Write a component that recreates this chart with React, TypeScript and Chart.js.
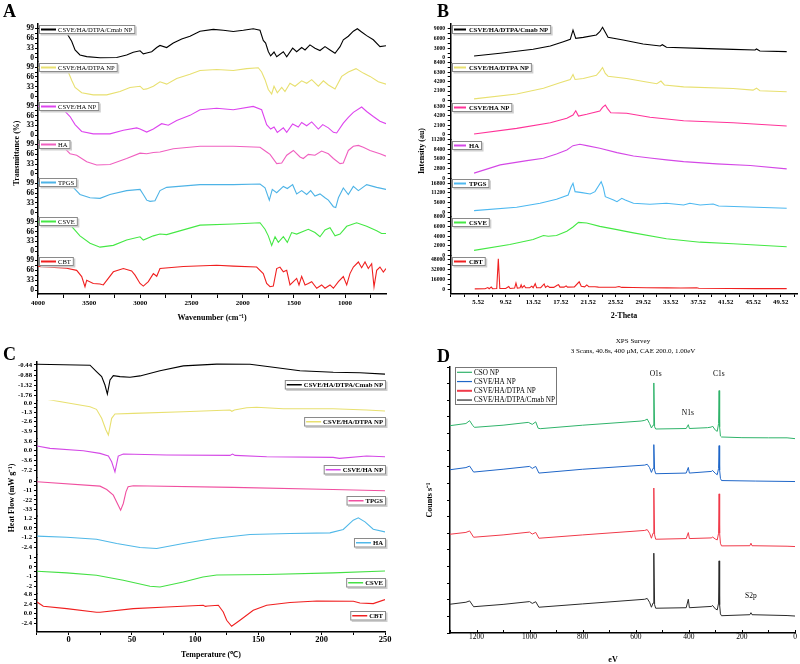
import React, { useEffect, useRef } from "react";
import { Chart, registerables } from "chart.js";

Chart.register(...registerables);

type Pt = [number, number];

// ---------------- Panel A : FTIR ----------------
const ftirNames = ["CSVE/HA/DTPA/Cmab NP", "CSVE/HA/DTPA NP", "CSVE/HA NP", "HA", "TPGS", "CSVE", "CBT"];
const ftirXTicks = ["4000", "3500", "3000", "2500", "2000", "1500", "1000"];
const ftirXMinor = [3750, 3250, 2750, 2250, 1750, 1250, 750];
const ftirYTicks = ["0", "33", "66", "99"];
const ftirYMinor = [16.5, 49.5, 82.5];

const ftirCmab: Pt[] = [[4000,99],[3800,98],[3736,92],[3720,84],[3671,56],[3638,27],[3590,10],[3524,4.5],[3394,1],[3231,1.5],[3134,10],[3069,19],[3003,24],[2971,14],[2938,17],[2889,21],[2840,35],[2808,42],[2743,35],[2678,50],[2596,64],[2515,73],[2417,90],[2287,96],[2190,93],[2092,89],[1994,93],[1897,98],[1831,93],[1799,59],[1776,50],[1750,22],[1727,7],[1694,20],[1668,4],[1603,21],[1570,4],[1512,33],[1473,21],[1424,35],[1391,27],[1343,44],[1294,33],[1245,25],[1196,38],[1147,27],[1098,16],[1049,38],[1017,61],[968,73],[919,90],[880,98],[838,87],[789,75],[724,61],[659,38],[600,41]];
const ftirDtpa: Pt[] = [[4000,97],[3800,96],[3704,83],[3671,55],[3638,31],[3573,13],[3460,6],[3329,6],[3199,17],[3101,31],[3003,35],[2971,24],[2938,26],[2873,35],[2808,50],[2743,42],[2645,61],[2515,75],[2417,88],[2254,91],[2092,88],[1961,94],[1848,97],[1815,83],[1782,57],[1750,24],[1717,9],[1694,35],[1662,13],[1619,31],[1587,17],[1538,45],[1489,35],[1424,53],[1375,45],[1326,57],[1261,35],[1212,53],[1163,39],[1098,26],[1033,68],[968,83],[893,94],[822,79],[756,68],[675,50],[600,42]];
const ftirHaNp: Pt[] = [[4000,97],[3800,95],[3736,80],[3687,63],[3638,36],[3573,13],[3460,5],[3297,5],[3166,17],[3036,25],[3003,21],[2938,11],[2873,21],[2792,39],[2727,34],[2645,50],[2515,67],[2417,86],[2254,91],[2092,86],[1897,97],[1815,86],[1766,36],[1727,21],[1694,28],[1662,10],[1603,25],[1570,10],[1512,38],[1457,28],[1424,43],[1375,32],[1326,45],[1261,21],[1218,36],[1163,25],[1114,10],[1082,8],[1017,41],[968,60],[919,77],[838,95],[789,80],[724,63],[659,47],[600,39]];
const ftirHa: Pt[] = [[4000,99],[3800,96],[3736,85],[3687,68],[3622,63],[3524,41],[3427,30],[3297,32],[3134,52],[3003,70],[2938,68],[2873,72],[2808,74],[2678,85],[2417,93],[2092,93],[1831,90],[1766,74],[1733,66],[1668,35],[1619,37],[1570,63],[1505,79],[1440,57],[1408,52],[1359,66],[1294,63],[1229,77],[1163,68],[1114,52],[1049,35],[1017,37],[968,79],[919,93],[870,96],[822,90],[756,79],[659,68],[600,60]];
const ftirTpgs: Pt[] = [[4000,99],[3720,99],[3655,85],[3590,61],[3492,50],[3394,48],[3297,61],[3134,74],[3003,78],[2971,61],[2938,42],[2905,38],[2857,40],[2808,74],[2743,85],[2417,94],[2092,94],[1831,96],[1782,83],[1740,42],[1711,78],[1668,67],[1603,88],[1564,81],[1512,94],[1473,63],[1424,74],[1375,61],[1336,74],[1294,56],[1245,63],[1196,50],[1163,42],[1114,20],[1091,17],[1065,50],[1017,83],[968,61],[919,88],[870,74],[789,94],[691,85],[600,78]];
const ftirCsve: Pt[] = [[4000,99],[3750,97],[3687,90],[3590,52],[3492,27],[3394,14],[3264,20],[3134,38],[3003,49],[2971,38],[2873,52],[2808,58],[2743,56],[2580,72],[2417,88],[2092,92],[1831,96],[1782,74],[1750,52],[1717,20],[1684,49],[1652,30],[1603,49],[1564,30],[1522,63],[1473,58],[1359,74],[1294,63],[1245,49],[1196,72],[1147,79],[1098,52],[1049,58],[984,84],[887,96],[789,84],[691,69],[643,60],[600,60]];
const ftirCbt: Pt[] = [[4000,79],[3720,73],[3622,66],[3573,45],[3541,11],[3524,33],[3460,22],[3394,20],[3362,17],[3264,61],[3166,72],[3085,64],[3052,50],[3003,22],[2971,13],[2922,28],[2873,55],[2840,46],[2808,72],[2580,79],[2254,83],[2092,80],[1864,77],[1799,55],[1766,22],[1733,11],[1701,13],[1668,72],[1636,77],[1603,61],[1570,66],[1538,17],[1505,28],[1473,39],[1450,17],[1424,46],[1391,17],[1359,22],[1326,28],[1277,6],[1229,17],[1196,6],[1147,17],[1114,6],[1065,28],[1017,45],[984,17],[952,55],[919,77],[870,94],[838,75],[805,94],[773,72],[740,88],[717,11],[691,66],[659,77],[626,60],[600,72]];

// ---------------- Panel B : XRD ----------------
const xrdNames = ["CSVE/HA/DTPA/Cmab NP", "CSVE/HA/DTPA NP", "CSVE/HA NP", "HA", "TPGS", "CSVE", "CBT"];
const xrdXTicks = ["5.52", "9.52", "13.52", "17.52", "21.52", "25.52", "29.52", "33.52", "37.52", "41.52", "45.52", "49.52"];
const xrdXMinor = [1.52, 3.52, 7.52, 11.52, 15.52, 19.52, 23.52, 27.52, 31.52, 35.52, 39.52, 43.52, 47.52, 51.52];
const xrdCmabTicks = ["0", "3000", "6000", "9000"];
const xrdDtpaTicks = ["0", "2100", "4200", "6300", "8400"];
const xrdHaNpTicks = ["0", "2100", "4200", "6300"];
const xrdHaTicks = ["0", "2800", "5600", "8400", "11200"];
const xrdTpgsTicks = ["0", "5600", "11200", "16800"];
const xrdCsveTicks = ["0", "2000", "4000", "6000", "8000"];
const xrdCbtTicks = ["0", "16000", "32000", "48000"];

const xrdCmab: Pt[] = [[4.9,620],[8.7,1450],[13.5,2690],[16,3720],[17.9,5060],[18.9,5790],[19.3,8690],[19.7,6100],[20.8,6410],[22.7,7140],[23.2,8170],[23.6,9520],[24,7960],[24.4,6410],[26.6,5580],[29.5,4340],[32,3720],[32.3,4130],[32.9,3310],[37.8,3000],[42.6,2690],[45.8,2500],[46.0,2800],[46.5,2170],[50.4,1970]];
const xrdDtpa: Pt[] = [[4.9,360],[11.1,1440],[15,2730],[17.4,3950],[18.9,4670],[19.3,5750],[19.6,4670],[20.8,4880],[22.7,5600],[23.2,6460],[23.6,7320],[24,6000],[24.4,5380],[27.1,4880],[30,4090],[31.5,3730],[32.1,4310],[32.6,3450],[35.4,3020],[42.6,2650],[45.5,2300],[46,2730],[46.5,2150],[50.4,1940]];
const xrdHaNp: Pt[] = [[4.9,150],[11.1,1400],[16,2640],[18.4,3600],[19.3,4330],[19.7,5270],[20.1,4110],[21.3,4480],[23.2,5210],[23.6,6020],[24,6520],[24.3,5800],[24.8,4830],[27.1,4700],[30.5,3820],[35.4,3080],[42.6,2640],[50.4,1910]];
const xrdHa: Pt[] = [[4.9,1460],[8.7,3880],[12.6,5130],[15,5830],[16.9,7090],[18.4,8250],[19.3,9510],[20.3,9920],[21.3,9510],[23.2,8750],[25.7,7470],[28.1,6500],[30.5,5900],[32.9,5340],[35.4,4840],[40.2,4170],[45.1,3680],[50.4,2710]];
const xrdTpgs: Pt[] = [[4.9,930],[11.1,2900],[14.5,5210],[16.9,7530],[18.6,10020],[19.0,14480],[19.3,16790],[19.6,11930],[20.6,11350],[21.8,10600],[22.5,11930],[23.1,15810],[23.4,17720],[23.7,14500],[24,9030],[25.2,7120],[25.7,6140],[26.4,8100],[26.9,7120],[28.1,5210],[30.5,4630],[32.9,5210],[35.4,4230],[36.3,5210],[37.8,4230],[39.7,4810],[40.5,3650],[50.4,2320]];
const xrdCsve: Pt[] = [[4.9,1030],[10.1,2270],[13.5,3300],[15,4120],[15.7,3980],[16.9,4120],[18.4,5010],[19.3,5920],[20.1,6870],[21.3,6740],[23.2,6040],[25.7,5360],[26.6,5100],[28.1,4680],[32.9,3440],[37.8,2740],[42.6,2410],[50.4,1790]];
const xrdCbt: Pt[] = [[5.0,700],[6.5,900],[6.9,2800],[7.1,900],[7.4,3500],[7.6,1000],[8.2,1200],[8.43,49000],[8.65,1200],[9.5,1300],[9.95,4500],[10.15,1300],[10.8,2000],[11.0,10000],[11.2,2000],[11.6,2500],[11.75,7000],[11.9,2500],[12.2,6000],[12.4,2500],[13.0,2500],[13.3,5000],[13.5,2500],[13.8,9000],[14.0,2600],[14.6,2500],[15.1,8500],[15.3,3000],[15.6,5500],[15.9,3000],[16.5,3000],[17.0,6500],[17.2,7500],[17.4,3500],[18.0,3500],[18.3,5500],[18.5,3500],[19.5,3800],[20.2,12000],[20.5,5000],[21.0,4000],[21.3,7000],[21.6,4200],[22.5,4000],[23.0,3500],[24.0,3300],[25.5,3200],[26.0,4500],[26.4,3000],[28,2800],[30,2500],[33,2200],[35,2000],[37.3,2500],[37.6,1600],[42,1300],[46,1100],[50.4,1000]];

// ---------------- Panel C : DSC ----------------
const dscNames = ["CSVE/HA/DTPA/Cmab NP", "CSVE/HA/DTPA NP", "CSVE/HA NP", "TPGS", "HA", "CSVE", "CBT"];
const dscXTicks = ["0", "50", "100", "150", "200", "250"];
const dscXMinor = [-25, 25, 75, 125, 175, 225];
const dscCmabTicks = ["-0.44", "-0.88", "-1.32", "-1.76"];
const dscDtpaTicks = ["0.0", "-1.3", "-2.6", "-3.9"];
const dscHaNpTicks = ["3.6", "0.0", "-3.6", "-7.2"];
const dscTpgsTicks = ["0", "-11", "-22", "-33"];
const dscHaTicks = ["1.2", "0.0", "-1.2", "-2.4"];
const dscCsveTicks = ["1", "0", "-1", "-2"];
const dscCbtTicks = ["4.8", "2.4", "0.0", "-2.4"];

const dscCmab: Pt[] = [[-25,-0.41],[16.9,-0.45],[22,-0.73],[26.1,-0.95],[28.7,-1.32],[30.6,-1.72],[32.7,-1.10],[35.3,-0.91],[40.6,-0.95],[48.5,-0.98],[56.4,-0.92],[72.2,-0.69],[90.6,-0.48],[117,-0.40],[143.3,-0.41],[161.7,-0.54],[182.8,-0.69],[209.1,-0.76],[230.2,-0.78],[250,-0.84]];
const dscDtpa: Pt[] = [[-18.7,0.56],[-1.5,0.04],[16.9,-0.52],[22,-0.88],[26.1,-2.13],[29.5,-3.76],[31.4,-4.46],[34,-2.13],[36.6,-1.53],[51.1,-1.44],[90.6,-1.21],[127.5,-0.98],[129,-1.15],[131,-0.98],[140.7,-0.65],[148.6,-0.6],[169.6,-0.79],[209,-0.79],[235.5,-0.98],[250,-1.11]];
const dscHaNp: Pt[] = [[-25,1.74],[-14.7,0.88],[11.6,-0.01],[24.8,-0.98],[31.4,-1.98],[34,-4.11],[36.6,-7.83],[39.2,-1.98],[43.2,-1.24],[77.5,-1.61],[127.5,-1.72],[129.5,-1.24],[131.5,-1.72],[156.5,-2.24],[209,-2.47],[214,-2.84],[235.5,-1.98],[250,-2.24]];
const dscTpgs: Pt[] = [[-25,-0.8],[24.8,-5.9],[30.1,-9.8],[35.3,-16.5],[39.2,-28.3],[41.1,-34.2],[43.2,-26.3],[45.3,-12.6],[47,-6.7],[51.1,-5.5],[130.1,-7.4],[209,-9.8],[250,-11.4]];
const dscHa: Pt[] = [[-25,-1.03],[-1.5,-1.16],[22,-1.41],[38,-1.94],[56.4,-2.44],[69.6,-2.56],[90.6,-1.94],[114.3,-1.32],[143.3,-0.82],[174.9,-0.70],[206.5,-0.62],[217,-0.20],[224.9,0.95],[228.9,1.24],[234.2,0.74],[240.7,-0.17],[250,-0.50]];
const dscCsve: Pt[] = [[-25,-0.45],[-1.5,-0.62],[22,-0.86],[43.2,-1.38],[64.3,-2.0],[72.2,-2.07],[90.6,-1.55],[106.1,-1.04],[117,-0.83],[156.5,-0.79],[209,-0.62],[250,-0.42]];
const dscCbt: Pt[] = [[-25,2.89],[-20,1.82],[-1.5,1.25],[22,0.33],[24.8,0.33],[51.1,1.25],[77.5,1.65],[106.4,2.07],[108,1.8],[110,1.9],[118.3,2.07],[122.2,0.41],[124.9,-1.65],[128.8,-3.14],[135.4,-1.65],[145.9,0.83],[156.5,2.07],[174.9,2.74],[196.1,3.14],[225,3.06],[230.2,2.64],[240.7,2.49],[250,3.48]];

// ---------------- Panel D : XPS ----------------
const xpsNames = ["CSO NP", "CSVE/HA NP", "CSVE/HA/DTPA NP", "CSVE/HA/DTPA/Cmab NP"];
const xpsXTicks = ["1200", "1000", "800", "600", "400", "200", "0"];
const xpsXMinor = [1300, 1100, 900, 700, 500, 300, 100];
const xpsYTicks = [0, 1, 2, 3, 4, 5, 6, 7, 8, 9, 10, 11, 12, 13, 14, 15, 16];
const xpsPeakLabels = ["O1s", "N1s", "C1s", "S2p"];
const xpsPeakEv = [525, 404, 287, 166];
const xpsPeakY = [15.6, 13.25, 15.6, 2.2];

const xpsCso: Pt[] = [[1300,12.47],[1240,12.6],[1226,12.77],[1215,12.5],[1208,12.37],[1100,12.5],[1005,12.67],[990,12.55],[977,12.7],[968,12.32],[960,12.29],[800,12.5],[580,12.75],[566,12.79],[557,12.87],[548,12.6],[541,12.33],[535,12.5],[532,15.04],[529,12.4],[525,12.27],[410,12.3],[402,12.53],[398,12.3],[330,12.35],[314,12.39],[311,12.45],[300,12.2],[293,12.13],[288,12.6],[286,14.58],[284,12.4],[281,11.85],[277,11.79],[200,11.75],[100,11.74],[30,11.74],[0,11.69]];
const xpsHa: Pt[] = [[1300,9.82],[1240,9.95],[1226,10.04],[1211,9.68],[1100,9.85],[1000,10.02],[990,9.9],[977,10.02],[965,9.62],[800,9.85],[566,10.1],[557,10.15],[548,9.95],[541,9.66],[535,9.9],[532,11.33],[529,9.8],[525,9.58],[410,9.62],[402,9.96],[398,9.62],[314,9.72],[311,9.78],[300,9.6],[293,9.52],[288,9.9],[286,11.27],[284,9.8],[281,9.3],[277,9.17],[150,9.14],[0,9.11]];
const xpsDtpa: Pt[] = [[1300,5.94],[1240,6.05],[1226,6.14],[1211,5.76],[1100,5.9],[1000,6.07],[990,5.95],[977,6.05],[965,5.7],[800,5.9],[566,6.17],[557,6.22],[548,6.0],[541,5.7],[535,6.0],[532,8.72],[529,5.9],[525,5.64],[410,5.68],[402,6.04],[398,5.68],[314,5.72],[311,5.78],[300,5.65],[293,5.6],[288,6.0],[286,8.37],[284,6.0],[281,5.4],[277,5.24],[170,5.25],[166,5.4],[162,5.25],[30,5.22],[0,5.2]];
const xpsCmab: Pt[] = [[1300,1.73],[1240,1.85],[1226,1.93],[1211,1.58],[1100,1.72],[1000,1.89],[990,1.78],[977,1.88],[965,1.55],[800,1.75],[566,2.03],[557,2.08],[548,1.85],[541,1.55],[535,1.8],[532,4.8],[529,1.7],[525,1.49],[410,1.52],[402,2.03],[398,1.52],[314,1.6],[311,1.66],[300,1.45],[293,1.39],[288,1.8],[286,4.34],[284,1.7],[281,1.15],[277,1.04],[170,1.1],[166,1.22],[162,1.1],[30,1.05],[0,1.02]];

// ---------------- styling helpers ----------------
const SERIF = '"Liberation Serif", "Times New Roman", serif';
const cssFont = (size: number, bold: boolean) => `${bold ? "bold " : ""}${size}px ${SERIF}`;
const jsFont = (size: number, bold: boolean) => ({ family: SERIF, size, weight: bold ? "bold" : "normal", lineHeight: 1.2 });

interface TextItem { text: string; x: number; y: number; font: string; align?: CanvasTextAlign; baseline?: CanvasTextBaseline; rotate?: boolean; dataX?: number; dataY?: number; }
interface LegendStyle { h: number; font: string; lineLen: number; pad: number; gap: number; lineWidth: number; align: "left" | "right"; x: number; }
interface Band { name: string; color: string; data: Pt[]; range: [number, number]; ticks: string[]; minor: number[]; legendY: number; }

function tickList(labels: string[], minor: number[]) {
  const map = new Map<number, string>();
  labels.forEach((l) => map.set(parseFloat(l), l));
  const vals = [...Array.from(map.keys()), ...minor].sort((a, b) => a - b);
  return { map, vals };
}

function makeDecor(texts: TextItem[], legends: { text: string; color: string; y: number }[], ls: LegendStyle | null, extra?: (chart: any, ctx: CanvasRenderingContext2D) => void) {
  return {
    id: "decor",
    afterDraw(chart: any) {
      const ctx: CanvasRenderingContext2D = chart.ctx;
      ctx.save();
      if (extra) extra(chart, ctx);
      if (ls) {
        for (const L of legends) {
          ctx.font = ls.font;
          const tw = ctx.measureText(L.text).width;
          const w = ls.pad + ls.lineLen + ls.gap + tw + ls.pad + 1;
          const x0 = ls.align === "right" ? ls.x - w : ls.x;
          ctx.fillStyle = "#cfcfcf";
          ctx.fillRect(x0 + 1.5, L.y + 1.5, w, ls.h);
          ctx.fillStyle = "#fff";
          ctx.fillRect(x0, L.y, w, ls.h);
          ctx.strokeStyle = "#8a8a8a";
          ctx.lineWidth = 1;
          ctx.strokeRect(x0 + 0.5, L.y + 0.5, w - 1, ls.h - 1);
          const cy = L.y + ls.h / 2;
          ctx.strokeStyle = L.color;
          ctx.lineWidth = ls.lineWidth;
          ctx.beginPath();
          ctx.moveTo(x0 + ls.pad, cy);
          ctx.lineTo(x0 + ls.pad + ls.lineLen, cy);
          ctx.stroke();
          ctx.fillStyle = "#000";
          ctx.textAlign = "left";
          ctx.textBaseline = "middle";
          ctx.fillText(L.text, x0 + ls.pad + ls.lineLen + ls.gap, cy + 0.5);
        }
      }
      for (const t of texts) {
        ctx.font = t.font;
        ctx.fillStyle = "#000";
        ctx.textAlign = t.align || "left";
        ctx.textBaseline = t.baseline || "alphabetic";
        let x = t.x;
        let y = t.y;
        if (t.dataX !== undefined) x = chart.scales.x.getPixelForValue(t.dataX);
        if (t.dataY !== undefined) y = chart.scales.y.getPixelForValue(t.dataY);
        if (t.rotate) {
          ctx.save();
          ctx.translate(x, y);
          ctx.rotate(-Math.PI / 2);
          ctx.fillText(t.text, 0, 0);
          ctx.restore();
        } else {
          ctx.fillText(t.text, x, y);
        }
      }
      ctx.restore();
    },
  };
}

interface StackSpec {
  bands: Band[];
  xMin: number; xMax: number; xReverse: boolean; xTicks: string[]; xMinor: number[];
  xFont: any; xTickLen: number; xPad: number; xHeight: number;
  yFont: any; yTickLen: number; yPad: number; yWidth: number;
  padding: { left: number; right: number; top: number; bottom: number };
  legend: LegendStyle;
  texts: TextItem[];
}

function stackedConfig(spec: StackSpec): any {
  const n = spec.bands.length;
  const datasets = spec.bands.map((b, i) => ({
    label: b.name,
    data: b.data.map(([x, y]) => ({ x, y })),
    xAxisID: "x",
    yAxisID: "y" + i,
    borderColor: b.color,
    borderWidth: 1.1,
    pointRadius: 0,
    fill: false,
    tension: 0,
  }));
  const xt = tickList(spec.xTicks, spec.xMinor);
  const scales: any = {
    x: {
      type: "linear", position: "bottom", min: spec.xMin, max: spec.xMax, reverse: spec.xReverse, bounds: "data",
      afterBuildTicks: (s: any) => { s.ticks = xt.vals.map((v) => ({ value: v })); },
      afterFit: (s: any) => { s.height = spec.xHeight; },
      ticks: { autoSkip: false, maxRotation: 0, minRotation: 0, color: "#000", font: spec.xFont, padding: spec.xPad, callback: (v: number) => xt.map.get(v) ?? "" },
      grid: { display: true, drawOnChartArea: false, drawTicks: true, tickLength: spec.xTickLen, tickColor: "#000", tickWidth: 1 },
      border: { display: true, color: "#000", width: 1.5 },
      title: { display: false },
    },
  };
  spec.bands.forEach((b, i) => {
    const yt = tickList(b.ticks, b.minor);
    scales["y" + i] = {
      type: "linear", position: "left", stack: "bands", stackWeight: 1, weight: n - i,
      min: b.range[0], max: b.range[1], bounds: "data",
      afterBuildTicks: (s: any) => { s.ticks = yt.vals.map((v) => ({ value: v })); },
      afterFit: (s: any) => { s.width = spec.yWidth; },
      ticks: { autoSkip: false, color: "#000", font: spec.yFont, padding: spec.yPad, callback: (v: number) => yt.map.get(v) ?? "" },
      grid: { display: true, drawOnChartArea: false, drawTicks: true, tickLength: spec.yTickLen, tickColor: "#000", tickWidth: 1 },
      border: { display: true, color: "#000", width: 1.5 },
      title: { display: false },
    };
  });
  const legends = spec.bands.map((b) => ({ text: b.name, color: b.color, y: b.legendY }));
  return {
    type: "line",
    data: { datasets },
    options: {
      animation: false, responsive: false, events: [],
      layout: { padding: spec.padding, autoPadding: false },
      plugins: { legend: { display: false }, tooltip: { enabled: false }, title: { display: false } },
      scales,
    },
    plugins: [makeDecor(spec.texts, legends, spec.legend)],
  };
}

// ---------------- Panel configs ----------------
const ftirColors = ["#000000", "#e8e070", "#dd44ee", "#f060c0", "#4db3e6", "#44e844", "#f02020"];
const ftirData = [ftirCmab, ftirDtpa, ftirHaNp, ftirHa, ftirTpgs, ftirCsve, ftirCbt];
const ftirLegendY = [25, 63, 102, 140, 178, 217, 257];

const configA = stackedConfig({
  bands: ftirNames.map((name, i) => ({ name, color: ftirColors[i], data: ftirData[i], range: [-13.4, 116.4] as [number, number], ticks: ftirYTicks, minor: ftirYMinor, legendY: ftirLegendY[i] })),
  xMin: 600, xMax: 4000, xReverse: true, xTicks: ftirXTicks, xMinor: ftirXMinor,
  xFont: jsFont(7, true), xTickLen: 4, xPad: 0.8, xHeight: 30,
  yFont: jsFont(7.5, true), yTickLen: 3, yPad: 1, yWidth: 30,
  padding: { left: 8, right: 14, top: 23.3, bottom: 8 },
  legend: { h: 9, font: cssFont(6.6, false), lineLen: 15, pad: 2, gap: 2, lineWidth: 2, align: "left", x: 39 },
  texts: [
    { text: "A", x: 3, y: 17, font: cssFont(18, true) },
    { text: "Wavenumber (cm\u207B\u00B9)", x: 212, y: 318, font: cssFont(8, true), align: "center", baseline: "middle" },
    { text: "Transmittance (%)", x: 16.5, y: 153, font: cssFont(8, true), align: "center", baseline: "middle", rotate: true },
  ],
});

const xrdColors = ["#000000", "#e8e070", "#ff3399", "#d448e6", "#4db8f0", "#44e844", "#f02020"];
const xrdData = [xrdCmab, xrdDtpa, xrdHaNp, xrdHa, xrdTpgs, xrdCsve, xrdCbt];
const xrdTicks = [xrdCmabTicks, xrdDtpaTicks, xrdHaNpTicks, xrdHaTicks, xrdTpgsTicks, xrdCsveTicks, xrdCbtTicks];
const xrdRanges: [number, number][] = [[-1420, 10550], [-150, 8420], [-1098, 7375], [-50, 11250], [-2664, 19672], [-30, 8030], [-7520, 54192]];
const xrdLegendY = [25, 63, 103, 141, 179, 218, 257];
const halfSteps = (labels: string[]) => {
  const v = labels.map(parseFloat);
  const out: number[] = [];
  for (let i = 0; i < v.length - 1; i++) out.push((v[i] + v[i + 1]) / 2);
  return out;
};

const configB = stackedConfig({
  bands: xrdNames.map((name, i) => ({ name, color: xrdColors[i], data: xrdData[i], range: xrdRanges[i], ticks: xrdTicks[i], minor: halfSteps(xrdTicks[i]), legendY: xrdLegendY[i] })),
  xMin: 1.5, xMax: 51.9, xReverse: false, xTicks: xrdXTicks, xMinor: xrdXMinor,
  xFont: jsFont(6.8, true), xTickLen: 3, xPad: 1, xHeight: 30,
  yFont: jsFont(5.7, true), yTickLen: 3, yPad: 2.5, yWidth: 40,
  padding: { left: 10.7, right: 3, top: 24, bottom: 8 },
  legend: { h: 9, font: cssFont(6.7, true), lineLen: 12, pad: 2, gap: 3, lineWidth: 2, align: "left", x: 52 },
  texts: [
    { text: "B", x: 37, y: 17, font: cssFont(18, true) },
    { text: "2-Theta", x: 224, y: 316, font: cssFont(8, true), align: "center", baseline: "middle" },
    { text: "Intensity (au)", x: 21.5, y: 151, font: cssFont(8, true), align: "center", baseline: "middle", rotate: true },
  ],
});

const dscColors = ["#000000", "#e8e070", "#d448e6", "#f050a0", "#50b8e8", "#44e044", "#f02020"];
const dscData = [dscCmab, dscDtpa, dscHaNp, dscTpgs, dscHa, dscCsve, dscCbt];
const dscTicks = [dscCmabTicks, dscDtpaTicks, dscHaNpTicks, dscTpgsTicks, dscHaTicks, dscCsveTicks, dscCbtTicks];
const dscRanges: [number, number][] = [[-1.993, -0.295], [-5.0, 0.376], [-9.95, 4.38], [-41.25, 4.24], [-3.34, 1.45], [-2.73, 1.25], [-4.56, 5.02]];
const dscLegendY = [48, 85, 133, 164, 206, 246, 279];

const configC = stackedConfig({
  bands: dscNames.map((name, i) => ({ name, color: dscColors[i], data: dscData[i], range: dscRanges[i], ticks: dscTicks[i], minor: halfSteps(dscTicks[i]), legendY: dscLegendY[i] })),
  xMin: -25, xMax: 250, xReverse: false, xTicks: dscXTicks, xMinor: dscXMinor,
  xFont: jsFont(8.5, true), xTickLen: 3, xPad: 0, xHeight: 30,
  yFont: jsFont(6.7, true), yTickLen: 3, yPad: 2, yWidth: 30,
  padding: { left: 7, right: 15, top: 29.7, bottom: 2 },
  legend: { h: 9.5, font: cssFont(6.7, true), lineLen: 15, pad: 2, gap: 2, lineWidth: 1.5, align: "right", x: 386 },
  texts: [
    { text: "C", x: 3, y: 28, font: cssFont(18, true) },
    { text: "Temperature (\u2103)", x: 211, y: 323, font: cssFont(8, true), align: "center", baseline: "middle" },
    { text: "Heat Flow (mW g\u207B\u00B9)", x: 11.7, y: 166, font: cssFont(8, true), align: "center", baseline: "middle", rotate: true },
  ],
});

const xpsColors = ["#2fb36a", "#1f66c8", "#f03a4a", "#2a2a2a"];
const xpsData = [xpsCso, xpsHa, xpsDtpa, xpsCmab];

function xpsConfig(): any {
  const xt = tickList(xpsXTicks, xpsXMinor);
  const texts: TextItem[] = [
    { text: "D", x: 37, y: 30, font: cssFont(18, true) },
    { text: "XPS Survey", x: 233, y: 9, font: cssFont(7, false), align: "center", baseline: "middle" },
    { text: "3 Scans, 40.8s, 400 \u03BCM, CAE 200.0, 1.00eV", x: 233, y: 19, font: cssFont(7, false), align: "center", baseline: "middle" },
    { text: "eV", x: 213, y: 328, font: cssFont(8, true), align: "center", baseline: "middle" },
    { text: "Counts s\u207B\u00B9", x: 30, y: 168, font: cssFont(8, true), align: "center", baseline: "middle", rotate: true },
    ...xpsPeakLabels.map((t, i) => ({ text: t, x: 0, y: 0, dataX: xpsPeakEv[i], dataY: xpsPeakY[i], font: cssFont(7.5, false), align: "center" as CanvasTextAlign, baseline: "middle" as CanvasTextBaseline })),
  ];
  const extra = (chart: any, ctx: CanvasRenderingContext2D) => {
    const s = chart.scales.x;
    ctx.strokeStyle = "#000";
    ctx.lineWidth = 1;
    for (const t of s.ticks) {
      const px = Math.round(s.getPixelForValue(t.value)) + 0.5;
      ctx.beginPath();
      ctx.moveTo(px, s.top);
      ctx.lineTo(px, s.top - 3);
      ctx.stroke();
    }
    const bx = 55, by = 35, bw = 102, bh = 38;
    ctx.fillStyle = "#fff";
    ctx.fillRect(bx, by, bw, bh);
    ctx.strokeStyle = "#777";
    ctx.strokeRect(bx + 0.5, by + 0.5, bw - 1, bh - 1);
    xpsNames.forEach((nm, i) => {
      const cy = by + 5.3 + i * 9.25;
      ctx.strokeStyle = xpsColors[i];
      ctx.lineWidth = i === 2 ? 2 : 1.2;
      ctx.beginPath();
      ctx.moveTo(bx + 2, cy);
      ctx.lineTo(bx + 17, cy);
      ctx.stroke();
      ctx.fillStyle = "#000";
      ctx.font = cssFont(7.2, false);
      ctx.textAlign = "left";
      ctx.textBaseline = "middle";
      ctx.fillText(nm, bx + 19, cy + 0.5);
    });
  };
  return {
    type: "line",
    data: {
      datasets: xpsNames.map((name, i) => ({
        label: name, data: xpsData[i].map(([x, y]) => ({ x, y })), borderColor: xpsColors[i], borderWidth: 1, pointRadius: 0, fill: false, tension: 0,
      })),
    },
    options: {
      animation: false, responsive: false, events: [],
      layout: { padding: { left: 20, right: 5, top: 35, bottom: 0 }, autoPadding: false },
      plugins: { legend: { display: false }, tooltip: { enabled: false }, title: { display: false } },
      scales: {
        x: {
          type: "linear", position: "bottom", min: 0, max: 1300, reverse: true, bounds: "data",
          afterBuildTicks: (s: any) => { s.ticks = xt.vals.map((v) => ({ value: v })); },
          afterFit: (s: any) => { s.height = 31; },
          ticks: { autoSkip: false, maxRotation: 0, minRotation: 0, color: "#000", font: jsFont(7.5, false), padding: 0, callback: (v: number) => xt.map.get(v) ?? "" },
          grid: { display: true, drawOnChartArea: false, drawTicks: false },
          border: { display: true, color: "#000", width: 1.5 },
        },
        y: {
          type: "linear", position: "left", min: 0, max: 16, bounds: "data",
          afterBuildTicks: (s: any) => { s.ticks = xpsYTicks.map((v) => ({ value: v })); },
          afterFit: (s: any) => { s.width = 30; },
          ticks: { autoSkip: false, callback: () => "" },
          grid: { display: true, drawOnChartArea: false, drawTicks: true, tickLength: 3, tickColor: "#000", tickWidth: 1 },
          border: { display: true, color: "#000", width: 1.5 },
        },
      },
    },
    plugins: [makeDecor(texts, [], null, extra)],
  };
}

function ChartCanvas(props: { left: number; top: number; width: number; height: number; make: () => any }) {
  const ref = useRef<HTMLCanvasElement>(null);
  useEffect(() => {
    const chart = new Chart(ref.current as HTMLCanvasElement, props.make());
    return () => chart.destroy();
  }, []);
  return (
    <canvas
      ref={ref}
      width={props.width}
      height={props.height}
      style={{ position: "absolute", left: props.left, top: props.top, width: props.width, height: props.height }}
    />
  );
}

export default function App() {
  return (
    <div style={{ position: "absolute", left: 0, top: 0, width: 800, height: 664, background: "#fff", overflow: "hidden" }}>
      <ChartCanvas left={0} top={0} width={400} height={332} make={() => configA} />
      <ChartCanvas left={400} top={0} width={400} height={332} make={() => configB} />
      <ChartCanvas left={0} top={332} width={400} height={332} make={() => configC} />
      <ChartCanvas left={400} top={332} width={400} height={332} make={xpsConfig} />
    </div>
  );
}
